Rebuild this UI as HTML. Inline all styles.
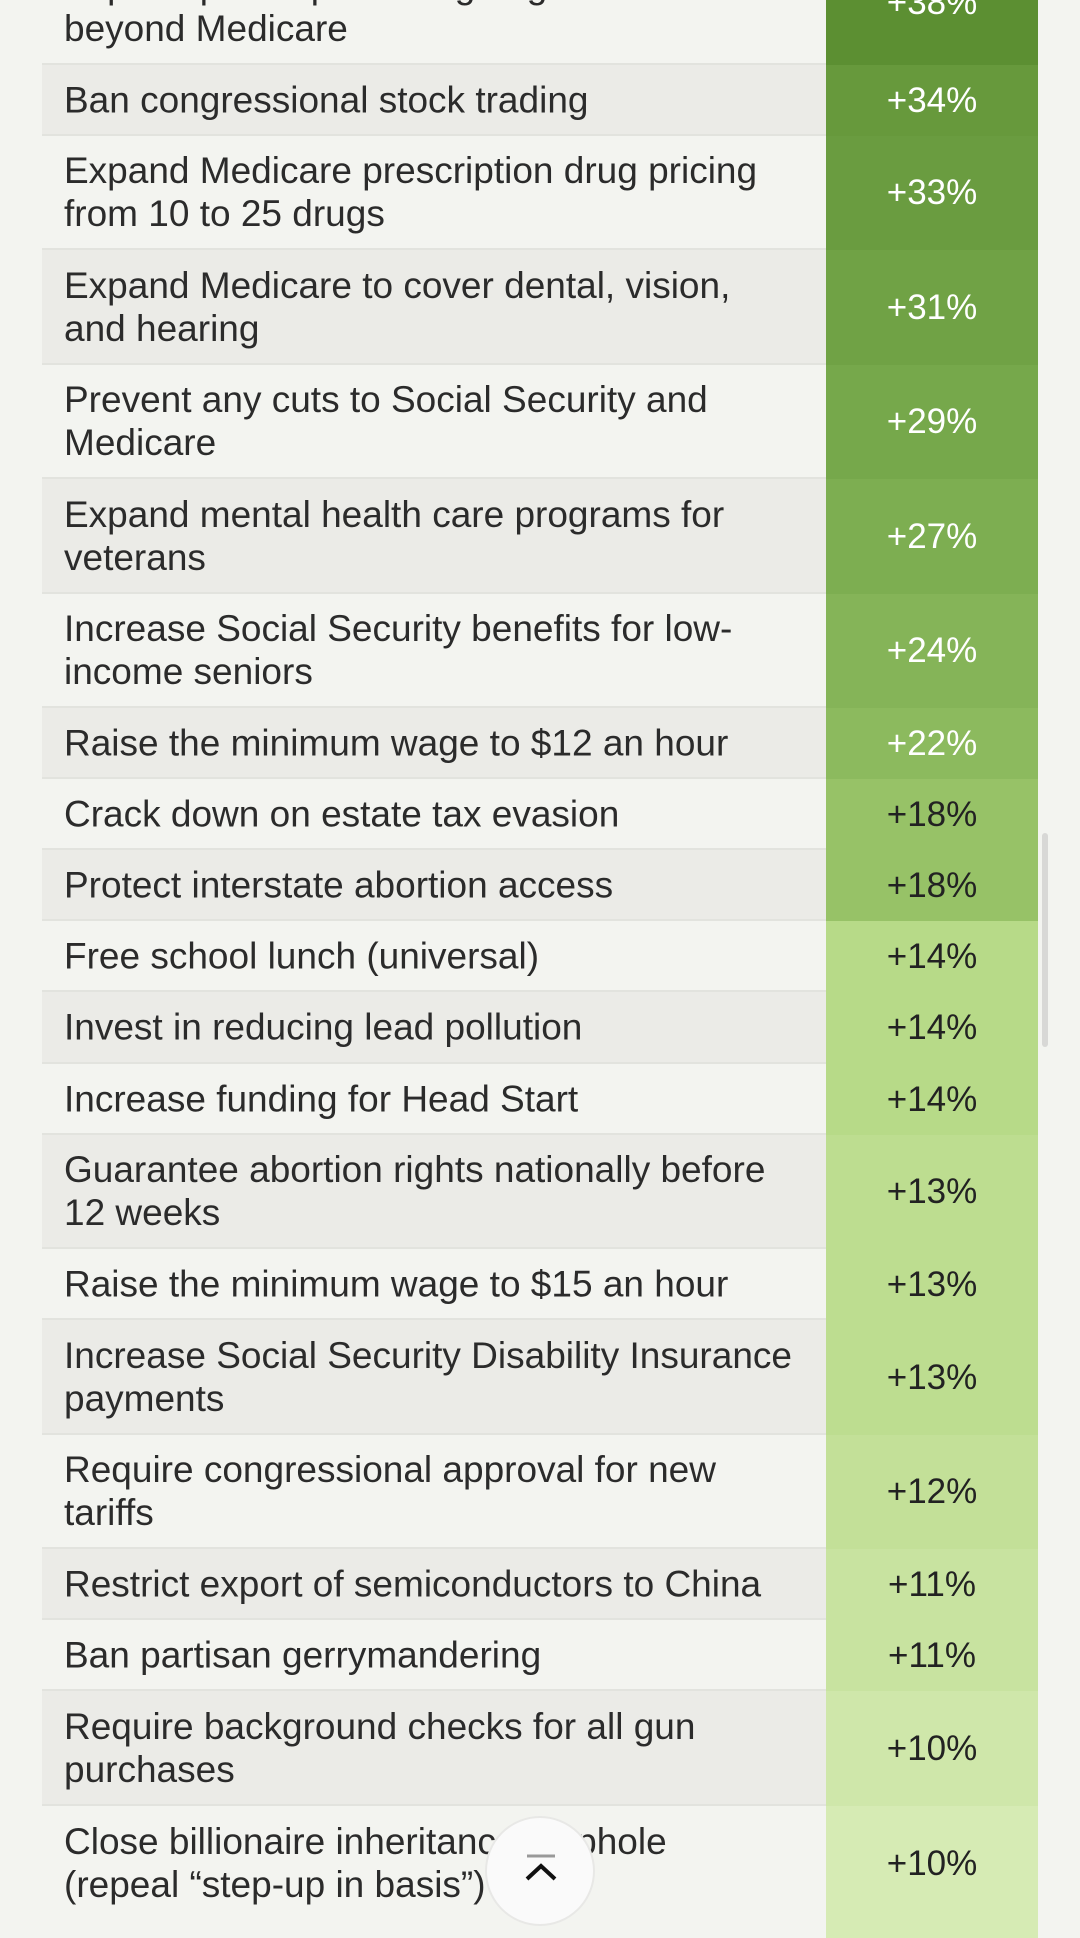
<!DOCTYPE html>
<html><head><meta charset="utf-8"><style>
html,body{margin:0;padding:0;width:1080px;height:1920px;overflow:hidden;background:#f3f4f0;font-family:"Liberation Sans",Roboto,sans-serif;}
.row{position:absolute;left:42px;width:996px;box-sizing:border-box;border-bottom:2px solid #e2e3de;}
.t{position:absolute;left:22px;top:50%;transform:translateY(-50%);font-size:37px;line-height:43px;color:#2b2b2b;white-space:nowrap;}
.v{position:absolute;left:784px;width:212px;top:0;bottom:-2px;display:flex;align-items:center;justify-content:center;font-size:35px;}
.btn{position:absolute;left:485px;top:1816px;width:110px;height:110px;border-radius:50%;background:#fafafa;border:2px solid #e8e8e6;box-sizing:border-box;}
.sb{position:absolute;left:1042px;top:833px;width:6px;height:214px;background:#d8d8d6;border-radius:3px;}
</style></head><body>
<div class="row" style="top:-50px;height:115px;background:#f3f4f0"><div class="t">Expand prescription drug negotiation<br>beyond Medicare</div><div class="v" style="background:#5c8f32;color:#fff;padding-bottom:10px">+38%</div></div>
<div class="row" style="top:65px;height:71px;background:#ebebe7"><div class="t">Ban congressional stock trading</div><div class="v" style="background:#67993c;color:#fff">+34%</div></div>
<div class="row" style="top:136px;height:114px;background:#f3f4f0"><div class="t">Expand Medicare prescription drug pricing<br>from 10 to 25 drugs</div><div class="v" style="background:#6a9c40;color:#fff">+33%</div></div>
<div class="row" style="top:250px;height:115px;background:#ebebe7"><div class="t">Expand Medicare to cover dental, vision,<br>and hearing</div><div class="v" style="background:#70a245;color:#fff">+31%</div></div>
<div class="row" style="top:365px;height:114px;background:#f3f4f0"><div class="t">Prevent any cuts to Social Security and<br>Medicare</div><div class="v" style="background:#76a84b;color:#fff">+29%</div></div>
<div class="row" style="top:479px;height:115px;background:#ebebe7"><div class="t">Expand mental health care programs for<br>veterans</div><div class="v" style="background:#7dae51;color:#fff">+27%</div></div>
<div class="row" style="top:594px;height:114px;background:#f3f4f0"><div class="t">Increase Social Security benefits for low-<br>income seniors</div><div class="v" style="background:#85b458;color:#fff">+24%</div></div>
<div class="row" style="top:708px;height:71px;background:#ebebe7"><div class="t">Raise the minimum wage to $12 an hour</div><div class="v" style="background:#8cba5e;color:#fff">+22%</div></div>
<div class="row" style="top:779px;height:71px;background:#f3f4f0"><div class="t">Crack down on estate tax evasion</div><div class="v" style="background:#97c267;color:#222">+18%</div></div>
<div class="row" style="top:850px;height:71px;background:#ebebe7"><div class="t">Protect interstate abortion access</div><div class="v" style="background:#97c267;color:#222">+18%</div></div>
<div class="row" style="top:921px;height:71px;background:#f3f4f0"><div class="t">Free school lunch (universal)</div><div class="v" style="background:#b7da88;color:#222">+14%</div></div>
<div class="row" style="top:992px;height:72px;background:#ebebe7"><div class="t">Invest in reducing lead pollution</div><div class="v" style="background:#b7da88;color:#222">+14%</div></div>
<div class="row" style="top:1064px;height:71px;background:#f3f4f0"><div class="t">Increase funding for Head Start</div><div class="v" style="background:#b7da88;color:#222">+14%</div></div>
<div class="row" style="top:1135px;height:114px;background:#ebebe7"><div class="t">Guarantee abortion rights nationally before<br>12 weeks</div><div class="v" style="background:#bddd90;color:#222">+13%</div></div>
<div class="row" style="top:1249px;height:71px;background:#f3f4f0"><div class="t">Raise the minimum wage to $15 an hour</div><div class="v" style="background:#bddd90;color:#222">+13%</div></div>
<div class="row" style="top:1320px;height:115px;background:#ebebe7"><div class="t">Increase Social Security Disability Insurance<br>payments</div><div class="v" style="background:#bddd90;color:#222">+13%</div></div>
<div class="row" style="top:1435px;height:114px;background:#f3f4f0"><div class="t">Require congressional approval for new<br>tariffs</div><div class="v" style="background:#c3e098;color:#222">+12%</div></div>
<div class="row" style="top:1549px;height:71px;background:#ebebe7"><div class="t">Restrict export of semiconductors to China</div><div class="v" style="background:#c8e3a0;color:#222">+11%</div></div>
<div class="row" style="top:1620px;height:71px;background:#f3f4f0"><div class="t">Ban partisan gerrymandering</div><div class="v" style="background:#c8e3a0;color:#222">+11%</div></div>
<div class="row" style="top:1691px;height:115px;background:#ebebe7"><div class="t">Require background checks for all gun<br>purchases</div><div class="v" style="background:#cfe7aa;color:#222">+10%</div></div>
<div class="row" style="top:1806px;height:130px;background:#f3f4f0;border-bottom:none"><div class="t" style="top:57px">Close billionaire inheritance loophole<br>(repeal “step-up in basis”)</div><div class="v" style="background:#d6ebb4;color:#222;padding-bottom:16px">+10%</div></div>
<div class="sb"></div>
<div class="btn"><svg width="110" height="110" viewBox="0 0 110 110" style="position:absolute;left:-2px;top:-2px"><line x1="42" y1="40" x2="70" y2="40" stroke="#999" stroke-width="3"/><polyline points="42,63 56,50 70,63" fill="none" stroke="#111" stroke-width="4"/></svg></div>
</body></html>
